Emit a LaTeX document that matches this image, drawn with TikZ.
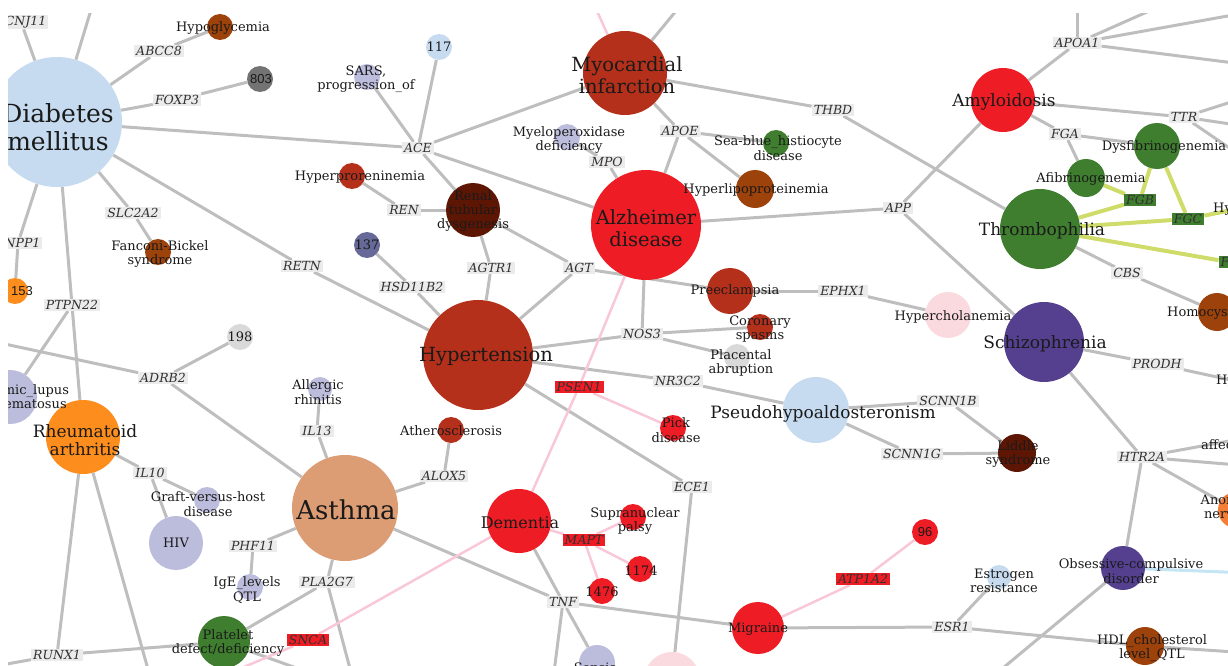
\documentclass[tikz,border=0pt]{standalone}
\usepackage{fontspec}
\setmainfont{DejaVu Serif}
\newfontfamily\numfont{Liberation Sans}
\usetikzlibrary{backgrounds}

\definecolor{ltblue}{HTML}{C6DBEF}
\definecolor{lav}{HTML}{BCBDDC}
\definecolor{brown}{HTML}{9C420A}
\definecolor{mgray}{HTML}{737373}
\definecolor{dred}{HTML}{B5301B}
\definecolor{vdred}{HTML}{5E1604}
\definecolor{alzred}{HTML}{EE1C24}
\definecolor{slate}{HTML}{676A98}
\definecolor{orng}{HTML}{FD8D1C}
\definecolor{orng2}{HTML}{F47E36}
\definecolor{lgray}{HTML}{D9D9D9}
\definecolor{tan}{HTML}{DC9C74}
\definecolor{fgreen}{HTML}{3F7E2E}
\definecolor{purp}{HTML}{54408F}
\definecolor{pink}{HTML}{FADADF}
\definecolor{txt}{HTML}{1A1A1A}
\definecolor{genebg}{HTML}{EBEBEB}
\definecolor{linkgray}{HTML}{BEBEBE}
\definecolor{pinklink}{HTML}{F8C8D8}
\definecolor{fgblink}{HTML}{CFDC6A}
\definecolor{bluelink}{HTML}{C5E5F5}

\begin{document}
\begin{tikzpicture}[x=1pt, y=-1pt,
    dis/.style={circle, inner sep=0pt, minimum size=#1},
    lbl/.style={font=\fontsize{13}{14.5}\selectfont, align=center, inner sep=0pt, text=txt},
    mid/.style={lbl, font=\fontsize{17}{18}\selectfont},
    big/.style={lbl, font=\fontsize{19.5}{22}\selectfont},
    xbig/.style={lbl, font=\fontsize{26}{28}\selectfont},
    num/.style={lbl, font=\numfont\fontsize{13}{14}\selectfont},
    gene/.style={fill=genebg, inner xsep=2pt, inner ysep=1.2pt, text=txt!90,
                 font=\fontsize{12.5}{14}\selectfont\itshape},
    redgene/.style={gene, fill=alzred},
    grngene/.style={gene, fill=fgreen},
    link/.style={draw=linkgray, line width=3pt},
    plink/.style={draw=pinklink, line width=2.5pt},
    ylink/.style={draw=fgblink, line width=4pt},
    blink/.style={draw=bluelink, line width=3pt}
]
\useasboundingbox (0,0) rectangle (1228,666);
\begin{scope}
    \clip (8,14) rectangle (1228,666);

    % Disease circles
    \node[dis=130, fill=ltblue] (dm) at (57,122) {};
    \node[dis=26, fill=brown] (hypogly) at (220,27) {};
    \node[dis=26, fill=mgray] (n803) at (260,79) {};
    \node[dis=26, fill=lav] (sars) at (367,77) {};
    \node[dis=26, fill=ltblue] (n117) at (439,47) {};
    \node[dis=84, fill=dred] (mi) at (625,73) {};
    \node[dis=26, fill=lav] (mpd) at (567,137) {};
    \node[dis=26, fill=fgreen] (seablue) at (776,143) {};
    \node[dis=38, fill=brown] (hlp) at (755,189) {};
    \node[dis=110, fill=alzred] (alz) at (646,225) {};
    \node[dis=26, fill=dred] (hpr) at (352,176) {};
    \node[dis=54, fill=vdred] (rtd) at (473,210) {};
    \node[dis=26, fill=slate] (n137) at (367,245) {};
    \node[dis=26, fill=brown] (fbs) at (158,252) {};
    \node[dis=26, fill=orng] (n153) at (15,291) {};
    \node[dis=26, fill=lgray] (n198) at (240,337) {};
    \node[dis=54, fill=lav] (sle) at (10,397) {};
    \node[dis=74, fill=orng] (ra) at (83,437) {};
    \node[dis=24, fill=lav] (ar) at (320,389) {};
    \node[dis=26, fill=dred] (ath) at (451,430) {};
    \node[dis=106, fill=tan] (asthma) at (345,508) {};
    \node[dis=26, fill=lav] (gvhd) at (207,500) {};
    \node[dis=54, fill=lav] (hiv) at (176,543) {};
    \node[dis=26, fill=lav] (ige) at (250,587) {};
    \node[dis=52, fill=fgreen] (plt) at (224,642) {};
    \node[dis=110, fill=dred] (ht) at (478,355) {};
    \node[dis=46, fill=dred] (pre) at (730,291) {};
    \node[dis=26, fill=dred] (cor) at (760,327) {};
    \node[dis=26, fill=lgray] (pla) at (737,357) {};
    \node[dis=26, fill=alzred] (pick) at (673,428) {};
    \node[dis=66, fill=ltblue] (pha) at (816,410) {};
    \node[dis=46, fill=pink] (hch) at (948,315) {};
    \node[dis=64, fill=alzred] (amy) at (1003,100) {};
    \node[dis=46, fill=fgreen] (dysf) at (1157,146) {};
    \node[dis=38, fill=fgreen] (afib) at (1086,178) {};
    \node[dis=80, fill=fgreen] (thr) at (1040,229) {};
    \node[dis=80, fill=purp] (scz) at (1044,342) {};
    \node[dis=38, fill=brown] (homo) at (1217,312) {};
    \node[dis=36, fill=orng2] (anor) at (1236,510) {};
    \node[dis=44, fill=purp] (ocd) at (1123,568) {};
    \node[dis=24, fill=ltblue] (estr) at (999,577) {};
    \node[dis=38, fill=brown] (hdl) at (1145,646) {};
    \node[dis=26, fill=alzred] (n96) at (925,532) {};
    \node[dis=52, fill=alzred] (mig) at (758,628) {};
    \node[dis=64, fill=alzred] (dem) at (519,521) {};
    \node[dis=26, fill=alzred] (psp) at (633,517) {};
    \node[dis=26, fill=alzred] (n1174) at (640,569) {};
    \node[dis=26, fill=alzred] (n1476) at (602,591) {};
    \node[dis=36, fill=lav] (sepsis) at (597,663) {};
    \node[dis=56, fill=pink] (pinkb) at (672,680) {};
    \node[dis=38, fill=vdred] (liddle) at (1017,453) {};

    % Disease labels
    \node[xbig, font=\fontsize{25}{28}\selectfont] at (58,127) {Diabetes\\mellitus};
    \node[lbl] at (223,28) {Hypoglycemia};
    \node[num] at (261,79) {803};
    \node[lbl] at (366,79) {SARS,\\progression\_of};
    \node[lbl] at (439,47) {117};
    \node[big] at (627,75) {Myocardial\\infarction};
    \node[lbl] at (569,140) {Myeloperoxidase\\deficiency};
    \node[lbl] at (778,148) {Sea-blue\_histiocyte\\disease};
    \node[lbl] at (756,190) {Hyperlipoproteinemia};
    \node[big] at (646,228) {Alzheimer\\disease};
    \node[lbl] at (360,177) {Hyperproreninemia};
    \node[lbl, font=\fontsize{13}{14}\selectfont] at (473,211) {Renal\\tubular\\dysgenesis};
    \node[lbl] at (367,245) {137};
    \node[lbl] at (160,254) {Fanconi-Bickel\\syndrome};
    \node[num] at (22,291) {153};
    \node[lbl] at (240,337) {198};
    \node[lbl] at (18,398) {Systemic\_lupus\\erythematosus};
    \node[mid] at (85,440) {Rheumatoid\\arthritis};
    \node[lbl] at (318,392) {Allergic\\rhinitis};
    \node[lbl] at (451,431) {Atherosclerosis};
    \node[xbig] at (346,510) {Asthma};
    \node[lbl] at (208,504) {Graft-versus-host\\disease};
    \node[lbl] at (176,543) {HIV};
    \node[lbl] at (247,590) {IgE\_levels\\QTL};
    \node[lbl] at (228,643) {Platelet\\defect/deficiency};
    \node[big] at (486,356) {Hypertension};
    \node[lbl] at (735,291) {Preeclampsia};
    \node[lbl] at (760,329) {Coronary\\spasms};
    \node[lbl] at (741,363) {Placental\\abruption};
    \node[lbl] at (676,430) {Pick\\disease};
    \node[mid] at (823,414) {Pseudohypoaldosteronism};
    \node[lbl] at (953,317) {Hypercholanemia};
    \node[mid] at (1004,102) {Amyloidosis};
    \node[lbl] at (1164,147) {Dysfibrinogenemia};
    \node[lbl] at (1091,179) {Afibrinogenemia};
    \node[mid] at (1042,231) {Thrombophilia};
    \node[mid] at (1045,344) {Schizophrenia};
    \node[lbl, anchor=west] at (1167,313) {Homocystinuria};
    \node[lbl, anchor=west] at (1213,209) {Hypofibrinogenemia};
    \node[lbl, anchor=west] at (1216,381) {Hyperprolinemia};
    \node[lbl, anchor=west] at (1201,445) {affective};
    \node[lbl] at (1230,507) {Anorexia\\nervosa};
    \node[lbl] at (1131,571) {Obsessive-compulsive\\disorder};
    \node[lbl] at (1004,581) {Estrogen\\resistance};
    \node[lbl] at (1152,648) {HDL\_cholesterol\\level\_QTL};
    \node[num] at (925,532) {96};
    \node[lbl] at (758,629) {Migraine};
    \node[mid, font=\fontsize{16}{18}\selectfont] at (520,523) {Dementia};
    \node[lbl] at (635,521) {Supranuclear\\palsy};
    \node[lbl] at (641,571) {1174};
    \node[lbl] at (602,592) {1476};
    \node[lbl] at (595,669) {Sepsis};
    \node[lbl] at (1018,454) {Liddle\\syndrome};

    % Genes
    \foreach \g/\x/\y in {KCNJ11/21/22, ABCC8/159/51, FOXP3/177/100, ACE/418/148,
        REN/404/210, SLC2A2/133/213, ENPP1/18/243, PTPN22/72/305, RETN/302/266,
        HSD11B2/412/287, ADRB2/163/378, IL13/317/431, AGTR1/491/268, AGT/579/268,
        NOS3/642/334, NR3C2/678/381, MPO/607/162, APOE/680/131, THBD/833/110,
        APP/898/208, APOA1/1077/43, FGA/1065/134, TTR/1184/117, CBS/1127/273,
        EPHX1/843/291, PRODH/1157/364, SCNN1B/948/401, SCNN1G/912/454,
        HTR2A/1142/457, ESR1/952/627, ALOX5/444/476, ECE1/692/487, TNF/563/602,
        IL10/150/473, PHF11/253/546, PLA2G7/327/582, RUNX1/57/655, BDNF/997/673} {
        \node[gene] (\g) at (\x,\y) {\g};
    }
    \foreach \g/\x/\y in {PSEN1/579/387, MAPT/584/540, SNCA/308/640, ATP1A2/863/579} {
        \node[redgene] (\g) at (\x,\y) {\g};
    }
    \foreach \g/\x/\y in {FGB/1140/200, FGC/1188/219, F5/1229/262} {
        \node[grngene] (\g) at (\x,\y) {\g};
    }

    % Ends outside the frame
    \foreach \c/\x/\y in {offA/94/0, offB/0/343, offC/-10/667, offD/151/680,
        offE/353/680, offF/330/680, offG/685/0, offS/592/0, offH/1077/0,
        offI/1174/0, offJ/1250/12, offK/1250/65, offL/1250/96, offM/1250/127,
        offN/1250/162, hypofib/1290/198, hyprol/1300/395, affe/1300/428,
        offO/1250/466, offT/1250/573, offP/553/680, offQ/1250/653, offR/213/680} {
        \coordinate (\c) at (\x,\y);
    }
\end{scope}

\begin{scope}[on background layer]
    \clip (8,14) rectangle (1228,666);
    % Gene links
    \foreach \p/\q in {dm/KCNJ11, dm/offA, dm/ABCC8, ABCC8/hypogly, dm/FOXP3,
        FOXP3/n803, dm/ACE, dm/RETN, RETN/ht, dm/SLC2A2, SLC2A2/fbs, dm/PTPN22,
        PTPN22/ra, PTPN22/sle, dm/ENPP1, ENPP1/n153, offB/ADRB2, ADRB2/n198,
        ADRB2/asthma, ra/IL10, IL10/gvhd, IL10/hiv, ra/RUNX1, RUNX1/plt,
        RUNX1/offC, ra/offD, asthma/IL13, IL13/ar, asthma/ALOX5, ALOX5/ath,
        asthma/PHF11, PHF11/ige, asthma/PLA2G7, PLA2G7/plt, PLA2G7/offE,
        asthma/TNF, plt/offF, sars/ACE, n117/ACE, ACE/mi, ACE/alz, ACE/rtd,
        hpr/REN, REN/rtd, rtd/AGTR1, AGTR1/ht, rtd/AGT, AGT/ht, AGT/pre,
        n137/HSD11B2, HSD11B2/ht, ht/NOS3, NOS3/alz, NOS3/cor, NOS3/pla,
        ht/NR3C2, NR3C2/pha, ht/ECE1, ECE1/pinkb, mi/APOE, APOE/alz,
        APOE/seablue, APOE/hlp, mi/THBD, THBD/thr, mi/offG, mpd/MPO, MPO/alz,
        alz/APP, APP/amy, APP/scz, amy/APOA1, APOA1/offH, APOA1/offI,
        APOA1/offJ, APOA1/offK, amy/TTR, TTR/offL, TTR/offM, TTR/offN, amy/FGA,
        FGA/dysf, FGA/afib, thr/CBS, CBS/homo, pre/EPHX1, EPHX1/hch,
        pha/SCNN1B, SCNN1B/liddle, pha/SCNN1G, SCNN1G/liddle, scz/PRODH,
        PRODH/hyprol, scz/HTR2A, HTR2A/affe, HTR2A/offO, HTR2A/anor, HTR2A/ocd,
        ocd/BDNF, dem/TNF, TNF/mig, TNF/sepsis, TNF/offP, mig/ESR1, ESR1/estr,
        ESR1/hdl, hdl/offQ} {
        \draw[link] (\p) -- (\q);
    }
    \foreach \p/\q in {mi/offS, dem/SNCA, SNCA/offR, dem/PSEN1, PSEN1/alz,
        PSEN1/pick, dem/MAPT, MAPT/psp, MAPT/n1174, MAPT/n1476, mig/ATP1A2,
        ATP1A2/n96} {
        \draw[plink] (\p) -- (\q);
    }
    \foreach \p/\q in {afib/FGB, dysf/FGB, thr/FGB, dysf/FGC, thr/FGC,
        FGC/hypofib, thr/F5} {
        \draw[ylink] (\p) -- (\q);
    }
    \draw[blink] (ocd) -- (offT);
\end{scope}
\end{tikzpicture}
\end{document}
